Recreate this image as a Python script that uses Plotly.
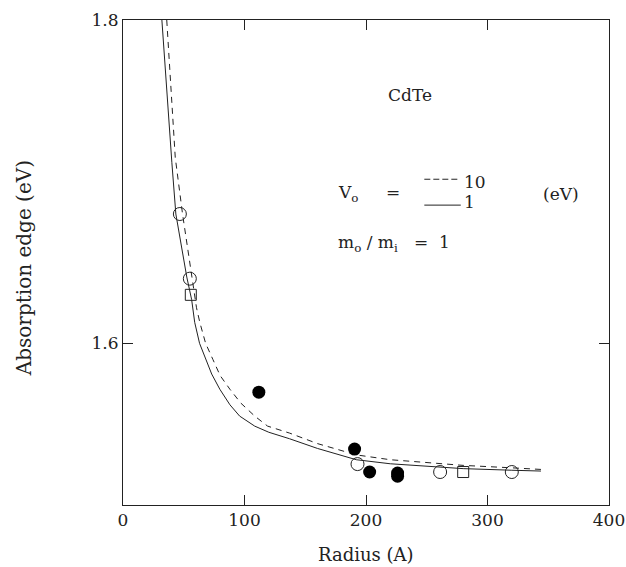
import plotly.graph_objects as go

# ---- data ----
solid_x = [32.0, 36, 40.2, 43.5, 48, 52.5, 56.5, 59, 63, 67.4, 73, 79.7, 88, 96, 108.4, 120, 137, 160, 192, 220, 246, 280, 320, 344]
solid_y = [1.800, 1.755, 1.712, 1.680, 1.660, 1.641, 1.627, 1.613, 1.600, 1.592, 1.581, 1.5716, 1.562, 1.555, 1.5488, 1.545, 1.541, 1.535, 1.528, 1.5255, 1.524, 1.5225, 1.5215, 1.521]

dash_x = [36.0, 39.5, 43, 49, 56.7, 60.5, 63.2, 68, 74, 80, 88, 97, 108.4, 119, 137, 160, 192, 220, 246, 280, 320, 344]
dash_y = [1.800, 1.760, 1.715, 1.680, 1.641, 1.622, 1.613, 1.600, 1.590, 1.580, 1.5716, 1.563, 1.555, 1.5488, 1.5445, 1.538, 1.531, 1.528, 1.5265, 1.5245, 1.523, 1.522]

open_circle_x = [46.8, 55, 193, 261, 320]
open_circle_y = [1.680, 1.640, 1.5253, 1.5204, 1.5204]

square_x = [55.8, 280]
square_y = [1.630, 1.5204]

filled_x = [111.8, 190.6, 203, 226, 226]
filled_y = [1.5698, 1.5346, 1.5204, 1.5198, 1.5178]

x_ticks = [0, 100, 200, 300, 400]
y_ticks = [1.6, 1.8]
y_tick_labels = ["1.6", "1.8"]

FONT = "DejaVu Serif"
INK = "#222222"

fig = go.Figure()
fig.add_trace(go.Scatter(x=solid_x, y=solid_y, mode="lines",
                         line=dict(color=INK, width=1), showlegend=False))
fig.add_trace(go.Scatter(x=dash_x, y=dash_y, mode="lines",
                         line=dict(color=INK, width=1, dash="6px,5px"), showlegend=False))
fig.add_trace(go.Scatter(x=open_circle_x, y=open_circle_y, mode="markers",
                         marker=dict(symbol="circle-open", size=13, color=INK, line=dict(width=1)),
                         showlegend=False))
fig.add_trace(go.Scatter(x=square_x, y=square_y, mode="markers",
                         marker=dict(symbol="square-open", size=11, color=INK, line=dict(width=1)),
                         showlegend=False))
fig.add_trace(go.Scatter(x=filled_x, y=filled_y, mode="markers",
                         marker=dict(symbol="circle", size=13, color="black"),
                         showlegend=False))

axis_common = dict(showgrid=False, zeroline=False, showline=True, linecolor=INK, linewidth=1,
                   mirror="ticks", ticks="inside", ticklen=10, tickcolor=INK, tickwidth=1,
                   automargin=False, tickfont=dict(family=FONT, size=17, color=INK))

fig.update_xaxes(range=[0, 400], tickvals=x_ticks, **axis_common)
fig.update_yaxes(range=[1.5, 1.8], tickvals=y_ticks, ticktext=y_tick_labels, **axis_common)

fig.add_annotation(xref="paper", yref="paper", x=0.5, y=-0.103, text="Radius (A)",
                   showarrow=False, font=dict(family=FONT, size=18, color=INK),
                   xanchor="center", yanchor="middle")
fig.add_annotation(xref="paper", yref="paper", x=-0.204, y=0.488, text="Absorption edge (eV)",
                   showarrow=False, font=dict(family=FONT, size=20, color=INK), textangle=-90,
                   xanchor="center", yanchor="middle")

ann_font = dict(family=FONT, size=17, color=INK)
fig.add_annotation(x=236, y=1.7535, text="CdTe", showarrow=False, font=ann_font)
fig.add_annotation(x=175, y=1.6925, text="V<sub>o</sub>", showarrow=False, font=ann_font, xanchor="left")
fig.add_annotation(x=222, y=1.6935, text="=", showarrow=False, font=ann_font)
fig.add_annotation(x=279, y=1.6995, text="10", showarrow=False, font=ann_font, xanchor="left")
fig.add_annotation(x=279, y=1.6875, text="1", showarrow=False, font=ann_font, xanchor="left")
fig.add_annotation(x=344, y=1.6925, text="(eV)", showarrow=False, font=ann_font, xanchor="left")
fig.add_annotation(x=175, y=1.6615, text="m<sub>o</sub> / m<sub>i</sub>&nbsp;&nbsp; = &nbsp;1",
                   showarrow=False, font=ann_font, xanchor="left")

fig.add_shape(type="line", x0=248, x1=277, y0=1.7015, y1=1.7015,
              line=dict(color=INK, width=1, dash="6px,3px"))
fig.add_shape(type="line", x0=248, x1=278, y0=1.6855, y1=1.6855,
              line=dict(color=INK, width=1))

fig.update_layout(template="none", width=626, height=567,
                  margin=dict(l=123, r=17, t=20, b=62, autoexpand=False),
                  plot_bgcolor="white", paper_bgcolor="white", showlegend=False)

fig.write_html("out.html", config={"displayModeBar": False},
               post_script="document.body.style.margin='0px';")
